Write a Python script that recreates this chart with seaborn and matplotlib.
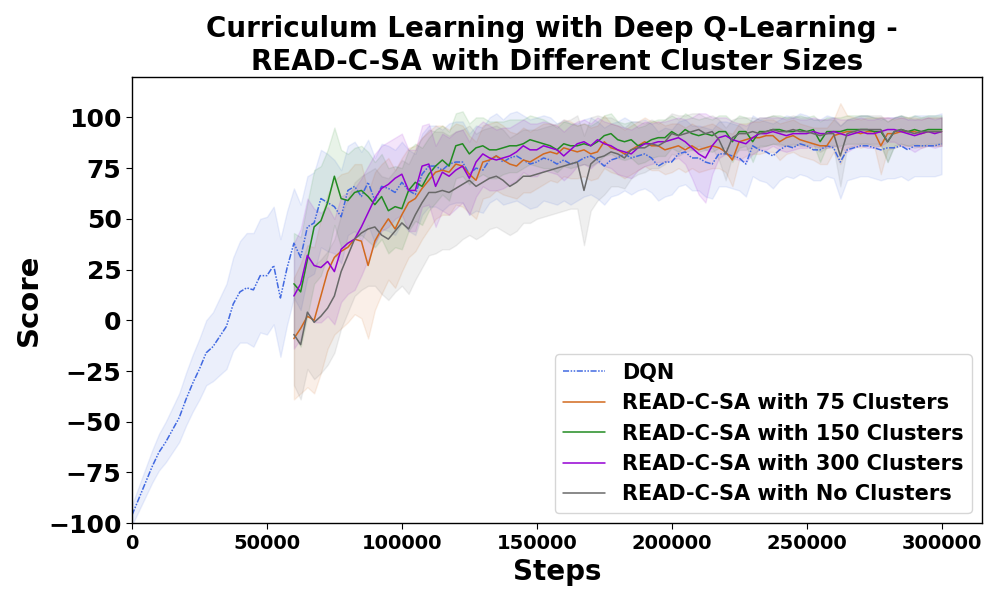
import matplotlib
matplotlib.use("Agg")
import matplotlib.pyplot as plt
import seaborn as sns
import numpy as np
import pandas as pd

sns.set_style("white")
plt.rcParams["font.family"] = ["DejaVu Sans"]
plt.rcParams["font.weight"] = "bold"
plt.rcParams["text.color"] = "black"
plt.rcParams["axes.labelcolor"] = "black"
plt.rcParams["xtick.color"] = "black"
plt.rcParams["ytick.color"] = "black"

# =========================
# Data
# =========================

dqn_steps = np.arange(0, 300001, 2500)
dqn_mean = [
    -96, -88, -80, -72, -65, -60, -54, -48, -39, -31,
    -24, -16, -13, -8, -3, 8, 14, 16, 15, 22,
    22, 27, 11, 26, 38, 31, 46, 48, 60, 58,
    56, 51, 64, 66, 61, 68, 59, 66, 65, 63,
    68, 64, 62, 72, 76, 76, 74, 77, 78, 78,
    72, 75, 74, 79, 81, 78, 80, 81, 79, 77,
    78, 80, 79, 77, 79, 77, 78, 80, 81, 79,
    76, 79, 80, 82, 80, 81, 82, 80, 76, 78,
    78, 82, 83, 80, 80, 78, 77, 82, 82, 81,
    80, 77, 86, 84, 83, 81, 84, 86, 85, 87,
    86, 84, 84, 86, 85, 78, 84, 85, 86, 86,
    85, 84, 85, 85, 86, 84, 86, 86, 86, 86,
    87,
]
dqn_std = [
    5, 6, 7, 8, 9, 10, 11, 12, 13, 14,
    15, 16, 17, 19, 21, 23, 25, 27, 28, 28,
    29, 29, 29, 28, 27, 26, 25, 25, 24, 24,
    23, 23, 22, 22, 22, 21, 21, 21, 21, 21,
    20, 20, 20, 20, 20, 20, 20, 20, 20, 20,
    20, 21, 21, 21, 21, 21, 22, 22, 22, 22,
    22, 21, 21, 20, 20, 20, 19, 19, 19, 19,
    19, 18, 18, 18, 18, 17, 17, 17, 17, 17,
    16, 16, 16, 16, 16, 17, 17, 16, 16, 16,
    16, 16, 15, 15, 15, 16, 15, 15, 15, 15,
    15, 15, 15, 15, 15, 18, 15, 15, 15, 15,
    15, 15, 15, 15, 15, 15, 15, 15, 15, 15,
    15,
]

read_steps = np.arange(60000, 300001, 2500)
c75_mean = [
    -9, -4, 2, 0, 12, 24, 31, 34, 36, 40,
    39, 27, 39, 45, 50, 45, 52, 58, 60, 65,
    69, 73, 74, 73, 77, 76, 72, 69, 78, 79,
    81, 79, 77, 76, 79, 78, 80, 82, 83, 82,
    85, 84, 83, 84, 82, 83, 88, 85, 84, 82,
    84, 86, 88, 86, 86, 84, 85, 86, 84, 86,
    84, 85, 86, 85, 83, 79, 88, 89, 90, 90,
    91, 91, 88, 90, 91, 89, 88, 87, 86, 86,
    91, 92, 93, 93, 92, 93, 93, 86, 92, 92,
    93, 93, 93, 92, 93, 93, 93,
]
c75_std = [
    30, 32, 35, 36, 38, 38, 38, 38, 37, 37,
    38, 36, 34, 32, 30, 29, 28, 27, 26, 25,
    24, 23, 22, 21, 20, 20, 19, 19, 18, 18,
    17, 17, 16, 16, 16, 15, 15, 15, 14, 14,
    14, 14, 13, 13, 13, 13, 13, 12, 12, 12,
    12, 12, 12, 12, 12, 12, 12, 11, 11, 11,
    11, 11, 11, 10, 10, 13, 9, 8, 8, 8,
    8, 8, 9, 8, 8, 8, 8, 8, 9, 9,
    8, 15, 8, 7, 7, 7, 7, 14, 8, 7,
    7, 7, 7, 7, 7, 7, 7,
]
c150_mean = [
    18, 14, 30, 46, 49, 58, 71, 60, 59, 63,
    64, 61, 57, 61, 54, 56, 55, 64, 68, 66,
    72, 76, 79, 76, 86, 87, 82, 85, 86, 84,
    84, 85, 86, 86, 87, 89, 88, 87, 86, 84,
    87, 86, 86, 87, 86, 88, 91, 92, 89, 88,
    89, 86, 87, 89, 90, 90, 93, 91, 94, 92,
    91, 92, 91, 93, 93, 88, 93, 93, 88, 93,
    93, 94, 94, 93, 93, 94, 93, 94, 88, 93,
    93, 93, 94, 94, 94, 94, 93, 93, 88, 93,
    94, 93, 94, 93, 94, 94, 94,
]
c150_std = [
    25, 27, 28, 28, 27, 26, 24, 24, 23, 22,
    22, 22, 21, 21, 21, 20, 20, 20, 19, 19,
    18, 18, 17, 17, 16, 16, 15, 15, 14, 14,
    14, 13, 13, 13, 12, 12, 12, 12, 11, 11,
    11, 11, 10, 10, 10, 10, 10, 10, 9, 9,
    9, 9, 9, 9, 9, 9, 8, 8, 8, 8,
    8, 8, 8, 8, 8, 10, 8, 7, 10, 7,
    7, 7, 7, 7, 7, 7, 7, 7, 10, 7,
    7, 7, 7, 7, 7, 7, 7, 7, 10, 7,
    7, 7, 7, 7, 7, 7, 7,
]
c300_mean = [
    12, 18, 32, 27, 26, 29, 24, 35, 38, 40,
    46, 53, 60, 65, 67, 70, 72, 64, 64, 76,
    77, 66, 73, 71, 74, 76, 70, 78, 82, 80,
    79, 80, 81, 83, 86, 84, 84, 86, 85, 84,
    81, 84, 87, 88, 86, 89, 87, 86, 84, 83,
    82, 85, 87, 87, 88, 88, 89, 90, 88, 85,
    82, 80, 86, 90, 91, 89, 88, 87, 90, 92,
    92, 93, 92, 91, 92, 92, 92, 93, 92, 92,
    93, 92, 91, 92, 93, 92, 92, 93, 94, 94,
    93, 92, 91, 92, 93, 92, 93,
]
c300_std = [
    26, 27, 28, 28, 27, 27, 26, 26, 25, 25,
    24, 23, 22, 21, 21, 20, 20, 20, 20, 20,
    20, 20, 19, 19, 19, 18, 18, 17, 16, 16,
    15, 15, 14, 14, 13, 13, 13, 12, 12, 12,
    12, 12, 11, 11, 11, 11, 11, 11, 12, 12,
    12, 11, 11, 10, 10, 10, 10, 10, 11, 15,
    20, 22, 14, 10, 9, 9, 9, 9, 8, 8,
    8, 7, 8, 8, 8, 7, 7, 7, 7, 7,
    7, 7, 8, 7, 7, 7, 7, 7, 6, 6,
    7, 7, 8, 7, 7, 7, 7,
]
cnone_mean = [
    -7, -12, 4, -1, 2, 6, 12, 24, 32, 40,
    43, 45, 46, 42, 40, 44, 48, 45, 52, 58,
    63, 63, 64, 63, 65, 67, 69, 66, 68, 70,
    71, 69, 66, 68, 71, 71, 72, 73, 74, 75,
    76, 77, 78, 64, 77, 80, 81, 83, 82, 80,
    84, 85, 85, 87, 86, 88, 92, 91, 92, 93,
    94, 92, 93, 89, 82, 90, 92, 92, 93, 92,
    93, 94, 93, 93, 94, 93, 93, 92, 91, 92,
    92, 81, 92, 93, 94, 94, 94, 94, 88, 93,
    94, 93, 92, 93, 93, 93, 93,
]
cnone_std = [
    25, 27, 28, 28, 28, 28, 28, 28, 28, 28,
    28, 28, 29, 29, 30, 30, 31, 32, 32, 32,
    31, 30, 29, 28, 28, 27, 27, 26, 26, 25,
    25, 25, 24, 24, 23, 23, 22, 22, 22, 22,
    22, 22, 23, 27, 23, 21, 19, 17, 16, 15,
    14, 13, 12, 12, 11, 11, 10, 10, 9, 9,
    8, 8, 8, 10, 13, 9, 8, 8, 7, 7,
    7, 7, 7, 7, 7, 7, 7, 7, 8, 7,
    7, 15, 7, 7, 7, 7, 7, 7, 10, 7,
    7, 7, 7, 7, 7, 7, 7,
]

series = [
    ("DQN", dqn_steps, dqn_mean, dqn_std, "royalblue", (0, (4, 1, 1, 1, 1, 1))),
    ("READ-C-SA with 75 Clusters", read_steps, c75_mean, c75_std, "chocolate", "-"),
    ("READ-C-SA with 150 Clusters", read_steps, c150_mean, c150_std, "forestgreen", "-"),
    ("READ-C-SA with 300 Clusters", read_steps, c300_mean, c300_std, "darkviolet", "-"),
    ("READ-C-SA with No Clusters", read_steps, cnone_mean, cnone_std, "dimgray", "-"),
]

# =========================
# Plot
# =========================

fig, ax = plt.subplots(figsize=(10, 6), dpi=100)

for label, steps, mean, std, color, ls in series:
    df = pd.DataFrame({"Steps": steps, "Score": mean, "std": std})
    sns.lineplot(data=df, x="Steps", y="Score", ax=ax, color=color,
                 linestyle=ls, linewidth=1.1, label=label)
    ax.fill_between(df["Steps"], df["Score"] - df["std"], df["Score"] + df["std"],
                    color=color, alpha=0.1, linewidth=1)

ax.set_xlim(0, 315000)
ax.set_ylim(-100, 120)
ax.set_yticks([-100, -75, -50, -25, 0, 25, 50, 75, 100])
ax.set_xticks([0, 50000, 100000, 150000, 200000, 250000, 300000])
ax.tick_params(axis="y", labelsize=18, length=4, left=True)
ax.tick_params(axis="x", labelsize=14, length=4, bottom=True)
for t in ax.get_xticklabels() + ax.get_yticklabels():
    t.set_fontweight("bold")

for s in ax.spines.values():
    s.set_color("black")
    s.set_linewidth(1.0)

ax.set_xlabel("Steps", fontsize=20, fontweight="bold", labelpad=4)
ax.set_ylabel("Score", fontsize=21, fontweight="bold", labelpad=4)
ax.set_title("Curriculum Learning with Deep Q-Learning - \nREAD-C-SA with Different Cluster Sizes",
             fontsize=20, fontweight="bold", pad=5)

leg = ax.legend(loc="lower right", prop={"size": 15, "weight": "bold"},
                handlelength=2.0, borderaxespad=0.5, labelspacing=0.5)

plt.subplots_adjust(left=0.132, right=0.982, top=0.872, bottom=0.128)
plt.savefig("out.png", dpi=100)
plt.close()
